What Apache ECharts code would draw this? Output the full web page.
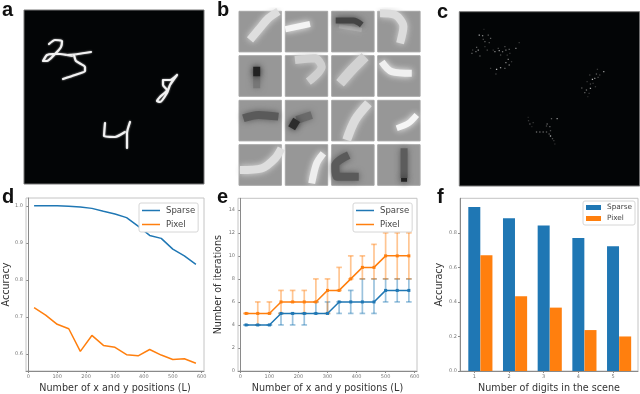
<!DOCTYPE html>
<html>
<head>
<meta charset="utf-8">
<script src="https://cdn.jsdelivr.net/npm/echarts@6/dist/echarts.min.js"></script>
<style>
html, body { margin: 0; padding: 0; background: #fff; }
#chart { width: 640px; height: 394px; }
</style>
</head>
<body>
<div id="chart"></div>
<script>
var BLUE = '#1f77b4'
var ORANGE = '#ff7f0e'
var FONT = '"DejaVu Sans"'

// panel d
var positions = [20, 60, 100, 140, 180, 220, 260, 300, 340, 380, 420, 460, 500, 540, 580]
var positionTicks = [0, 100, 200, 300, 400, 500, 600]
var accuracyTicksD = [0.6, 0.7, 0.8, 0.9, 1.0]
var sparseAccuracy = [1.0, 1.0, 1.0, 0.999, 0.997, 0.993, 0.985, 0.978, 0.968, 0.945, 0.92, 0.912, 0.883, 0.865, 0.842]
var pixelAccuracy = [0.725, 0.705, 0.68, 0.668, 0.607, 0.65, 0.623, 0.618, 0.598, 0.595, 0.612, 0.597, 0.585, 0.587, 0.575]

// panel e
var iterationTicks = [0, 2, 4, 6, 8, 10, 12, 14]
var sparseIter = [4, 4, 4, 5, 5, 5, 5, 5, 6, 6, 6, 6, 7, 7, 7]
var sparseLow = [4, 4, 4, 4, 4, 4, 5, 5, 5, 5, 5, 5, 6, 6, 6]
var sparseHigh = [4, 4, 4, 5, 5, 5, 6, 6, 6, 7, 8, 8, 8, 8, 8]
var pixelIter = [5, 5, 5, 6, 6, 6, 6, 7, 7, 8, 9, 9, 10, 10, 10]
var pixelLow = [5, 4, 5, 5, 6, 5, 6, 5, 7, 8, 8, 8, 8, 8, 8]
var pixelHigh = [5, 6, 6, 7, 7, 7, 8, 8, 9, 10, 10, 11, 12, 12, 12]

// panel f
var digitCounts = [1, 2, 3, 4, 5]
var accuracyTicksF = [0, 0.2, 0.4, 0.6, 0.8]
var sparseByDigits = [0.95, 0.885, 0.843, 0.77, 0.723]
var pixelByDigits = [0.67, 0.433, 0.367, 0.237, 0.2]

// panel a, pen strokes of the digits in picture units
var digitStrokes = [
  [[25, 34], [31, 30], [38, 31], [37, 37], [31, 44], [23, 51], [19, 51], [23, 45], [29, 44], [36, 44], [43, 45], [48, 46]],
  [[44, 45], [54, 44], [67, 42]],
  [[50, 45], [52, 51], [61, 57], [61, 61], [51, 65], [39, 69]],
  [[153, 65], [146, 70], [139, 70], [139, 75], [143, 80], [136, 87], [133, 91], [136, 92], [143, 83], [146, 75], [153, 65]],
  [[81, 113], [80, 126], [91, 127], [101, 122]],
  [[106, 112], [103, 123], [103, 138]]
]

// panel b, one [grey, stroke width, points] list per tile
var tileStrokes = [
  [['#dedede', 7, [[33, 86], [58, 56], [88, 21], [118, 0]]]],
  [['#f4f4f4', 5, [[0, 54], [74, 38]]]],
  [['#b0b0b0', 3, [[22, 45], [90, 56]]], ['#444444', 5, [[12, 28], [65, 28], [90, 41]]]],
  [['#dcdcdc', 7, [[7, 6], [52, 11], [77, 46], [67, 96]]]],
  [['#777777', 6, [[53, 60], [53, 98]]], ['#222222', 6, [[53, 33], [53, 62]]]],
  [['#cfcfcf', 7, [[29, 13], [89, 8], [109, 33], [69, 78]]]],
  [['#d2d2d2', 9, [[25, 83], [60, 43], [100, 3]]]],
  [['#f0f0f0', 6, [[12, 18], [42, 48], [102, 53]]]],
  [['#5a5a5a', 7, [[13, 54], [58, 44], [118, 49]]]],
  [['#6a6a6a', 7, [[34, 59], [79, 44]]], ['#2c2c2c', 7, [[19, 84], [34, 59]]]],
  [['#dcdcdc', 8, [[45, 119], [70, 59], [110, 9]]]],
  [['#f6f6f6', 5, [[57, 84], [92, 69], [117, 44]]]],
  [['#dedede', 7, [[3, 76], [68, 71], [108, 41], [127, 11]]]],
  [['#eeeeee', 6, [[79, 116], [94, 56], [114, 26]]]],
  [['#5a5a5a', 7, [[51, 31], [11, 61], [16, 96], [81, 96]]]],
  [['#5c5c5c', 6, [[79, 11], [79, 100]]], ['#222222', 5, [[79, 100], [79, 111]]]]
]

// panel c, sparse samples as [x, y, brightness] in picture units
var sparseSamples = [
  [148, 105, 0.9], [158, 107, 0.7], [145, 150, 0.8], [138, 155, 0.6], [126, 160, 0.5], [150, 168, 0.4], [160, 118, 0.4], [165, 125, 0.5],
  [175, 105, 0.5], [182, 115, 0.5], [178, 128, 0.4], [165, 140, 0.3], [172, 150, 0.4], [195, 155, 0.7], [208, 152, 0.8], [218, 155, 0.6],
  [228, 150, 0.6], [238, 148, 0.5], [212, 165, 0.4], [235, 178, 0.7], [228, 188, 0.7], [238, 195, 0.6], [212, 203, 0.8], [200, 208, 1],
  [225, 205, 0.5], [182, 205, 0.3], [198, 222, 0.3], [258, 145, 0.7], [268, 128, 0.3], [162, 88, 0.2], [245, 185, 0.3], [225, 140, 0.4],
  [190, 150, 0.3], [205, 145, 0.4], [232, 165, 0.3], [240, 160, 0.3], [140, 142, 0.5], [128, 150, 0.3],
  [522, 215, 0.8], [503, 208, 0.3], [500, 222, 0.5], [488, 238, 1], [495, 235, 0.7], [480, 225, 0.3], [505, 232, 0.4], [482, 252, 0.4],
  [482, 265, 0.9], [470, 270, 0.6], [465, 278, 0.5], [456, 264, 0.4], [478, 280, 0.3], [497, 260, 0.3], [472, 245, 0.3], [490, 250, 0.3],
  [474, 290, 0.2], [510, 225, 0.3],
  [382, 356, 0.8], [365, 356, 0.5], [296, 362, 0.3], [300, 372, 0.4], [310, 368, 0.3], [306, 380, 0.2], [352, 372, 0.5], [360, 380, 0.5],
  [350, 378, 0.4], [362, 392, 0.4], [320, 396, 0.6], [330, 396, 0.5], [340, 396, 0.5], [350, 396, 0.5], [362, 408, 1], [368, 416, 0.4],
  [372, 422, 0.3], [375, 432, 0.2], [358, 402, 0.4], [295, 352, 0.2]
]

var grids = []
var xAxes = []
var yAxes = []
var series = []

function addImagePanel(box, xRange, yRange, background, border) {
  grids.push({ left: box[0], top: box[1], width: box[2], height: box[3], show: true, backgroundColor: background, borderColor: border, borderWidth: 1 })
  xAxes.push({ type: 'value', gridIndex: grids.length - 1, min: xRange[0], max: xRange[1], show: false })
  yAxes.push({ type: 'value', gridIndex: grids.length - 1, min: yRange[0], max: yRange[1], inverse: true, show: false })
  return grids.length - 1
}

function addPlotPanel(box, xRange, yRange, xTicks, yTicks, yDigits, xName, yName, yGap) {
  var index = grids.length
  grids.push({ left: box[0], top: box[1], width: box[2], height: box[3], show: true, borderColor: '#c4c4c4', borderWidth: 1 })
  xAxes.push({
    type: 'value', gridIndex: index, min: xRange[0], max: xRange[1],
    name: xName, nameLocation: 'middle', nameGap: 12,
    nameTextStyle: { fontFamily: FONT, fontSize: 9.6, color: '#333' },
    splitLine: { show: false },
    axisLine: { lineStyle: { color: '#8a8a8a', width: 1 } },
    axisTick: { show: true, length: 2, customValues: xTicks, lineStyle: { color: '#8a8a8a' } },
    axisLabel: { customValues: xTicks, fontFamily: FONT, fontSize: 5, color: '#777', margin: 3 }
  })
  yAxes.push({
    type: 'value', gridIndex: index, min: yRange[0], max: yRange[1],
    name: yName, nameLocation: 'middle', nameGap: yGap,
    nameTextStyle: { fontFamily: FONT, fontSize: 9.6, color: '#333' },
    splitLine: { show: false },
    axisLine: { show: true, lineStyle: { color: '#8a8a8a', width: 1 } },
    axisTick: { show: true, length: 2, customValues: yTicks, lineStyle: { color: '#8a8a8a' } },
    axisLabel: {
      customValues: yTicks, fontFamily: FONT, fontSize: 5, color: '#777', margin: 3,
      formatter: function (v) { return yDigits ? v.toFixed(yDigits) : String(v) }
    }
  })
  return index
}

function legendAt(left, top, itemHeight, gap, fontSize, itemWidth) {
  return {
    left: left, top: top, orient: 'vertical', data: ['Sparse', 'Pixel'], selectedMode: false,
    icon: 'rect', itemWidth: itemWidth, itemHeight: itemHeight, itemGap: gap, padding: [3, 3, 3, 3],
    backgroundColor: '#fff', borderColor: '#d6d6d6', borderWidth: 1, borderRadius: 2,
    textStyle: { fontFamily: FONT, fontSize: fontSize, color: '#444', padding: [0, 0, 0, 1] }
  }
}

function errorBars(gridIndex, low, high, color) {
  return {
    type: 'custom', xAxisIndex: gridIndex, yAxisIndex: gridIndex, z: 1,
    data: positions.map(function (x, i) { return [x, low[i], high[i]] }),
    encode: { x: 0, y: [1, 2] },
    renderItem: function (params, api) {
      var a = api.coord([api.value(0), api.value(1)])
      var b = api.coord([api.value(0), api.value(2)])
      var style = { stroke: color, lineWidth: 1.7, opacity: 0.45, fill: null }
      return {
        type: 'group',
        children: [
          { type: 'line', shape: { x1: a[0], y1: a[1], x2: b[0], y2: b[1] }, style: style },
          { type: 'line', shape: { x1: a[0] - 2.8, y1: a[1], x2: a[0] + 2.8, y2: a[1] }, style: style },
          { type: 'line', shape: { x1: b[0] - 2.8, y1: b[1], x2: b[0] + 2.8, y2: b[1] }, style: style }
        ]
      }
    }
  }
}

function lineSeries(gridIndex, name, values, color, marked) {
  return {
    type: 'line', name: name, xAxisIndex: gridIndex, yAxisIndex: gridIndex, z: 3,
    data: positions.map(function (x, i) { return [x, values[i]] }),
    showSymbol: !!marked, symbol: 'rect', symbolSize: 3, animation: false,
    itemStyle: { color: color }, lineStyle: { color: color, width: 1.5 }
  }
}

// a
var panelA = addImagePanel([24, 10, 180, 174], [0, 180], [0, 174], '#030506', '#777')
digitStrokes.forEach(function (stroke) {
  series.push({
    type: 'line', xAxisIndex: panelA, yAxisIndex: panelA, data: stroke, showSymbol: false, smooth: 0.2,
    lineStyle: { color: '#f2f2f2', width: 2.2, cap: 'round', join: 'round', shadowBlur: 2, shadowColor: '#aaa' }
  })
})

// b
var tileLeft = [239, 285.3, 331.7, 377.7]
var tileTop = [11.3, 55.7, 100.3, 144.7]
tileStrokes.forEach(function (tile, i) {
  var box = [tileLeft[i % 4], tileTop[Math.floor(i / 4)], 42.4, 40.6]
  var panel = addImagePanel(box, [0, 127], [0, 122], '#979797', '#a6a6a6')
  tile.forEach(function (part) {
    series.push({
      type: 'line', xAxisIndex: panel, yAxisIndex: panel, data: part[2], showSymbol: false, smooth: 0.3,
      lineStyle: { color: part[0], width: part[1] + 1, cap: 'butt', join: 'round', shadowBlur: 6, shadowColor: part[0] }
    })
  })
})

// c
var panelC = addImagePanel([459.3, 11.7, 180.4, 174.3], [88, 630], [35, 558], '#030506', '#777')
series.push({
  type: 'scatter', xAxisIndex: panelC, yAxisIndex: panelC, data: sparseSamples, symbol: 'rect', symbolSize: 1.3,
  itemStyle: {
    color: function (p) {
      var g = Math.round(p.value[2] * 230)
      return 'rgb(' + g + ',' + g + ',' + g + ')'
    }
  }
})

// d
var panelD = addPlotPanel([24, 198, 180, 175], [-8, 608], [0.554, 1.021], positionTicks, accuracyTicksD, 1, 'Number of x and y positions (L)', 'Accuracy', 15)
series.push(lineSeries(panelD, 'Sparse', sparseAccuracy, BLUE, false))
series.push(lineSeries(panelD, 'Pixel', pixelAccuracy, ORANGE, false))

// e
var panelE = addPlotPanel([238, 198.3, 179, 175], [-8, 608], [0, 15], positionTicks, iterationTicks, 0, 'Number of x and y positions (L)', 'Number of iterations', 15)
series.push(errorBars(panelE, sparseLow, sparseHigh, BLUE))
series.push(errorBars(panelE, pixelLow, pixelHigh, ORANGE))
series.push(lineSeries(panelE, 'Sparse', sparseIter, BLUE, true))
series.push(lineSeries(panelE, 'Pixel', pixelIter, ORANGE, true))

// f
var panelF = addPlotPanel([460, 198.3, 178, 175], [0.5875, 5.72], [0, 1], digitCounts, accuracyTicksF, 1, 'Number of digits in the scene', 'Accuracy', 16)
series.push({
  type: 'bar', name: 'Sparse', xAxisIndex: panelF, yAxisIndex: panelF, barWidth: 12, barGap: '-100%',
  data: digitCounts.map(function (d, i) { return [d, sparseByDigits[i]] }), itemStyle: { color: BLUE }
})
series.push({
  type: 'bar', name: 'Pixel', xAxisIndex: panelF, yAxisIndex: panelF, barWidth: 12, barGap: '-100%',
  data: digitCounts.map(function (d, i) { return [d + 0.35, pixelByDigits[i]] }), itemStyle: { color: ORANGE }
})

var letterStyle = { fontFamily: '"Liberation Sans"', fontWeight: 'bold', fontSize: 20, color: '#111' }
function letter(text, left, top) {
  return { text: text, left: left, top: top, padding: 0, textStyle: letterStyle }
}

var chart = echarts.init(document.getElementById('chart'), null, { renderer: 'canvas' })
chart.setOption({
  animation: false,
  backgroundColor: '#fff',
  title: [
    letter('a', 2, 0), letter('b', 217, 0), letter('c', 437, 2),
    letter('d', 2, 187), letter('e', 217, 187), letter('f', 437, 187)
  ],
  legend: [
    legendAt(139, 203, 1.5, 5, 8.5, 18),
    legendAt(353, 203, 1.5, 5, 8.5, 18),
    legendAt(583, 201, 5, 4, 7.3, 15)
  ],
  grid: grids,
  xAxis: xAxes,
  yAxis: yAxes,
  series: series
})
</script>
</body>
</html>
